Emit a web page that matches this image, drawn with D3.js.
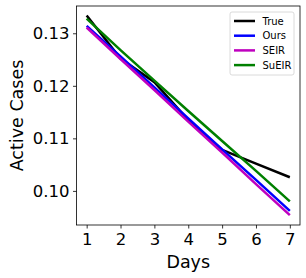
<!DOCTYPE html>
<html>
<head>
<meta charset="utf-8">
<script src="https://cdn.jsdelivr.net/npm/d3@7"></script>
<style>
  body { margin: 0; background: #fff; }
  svg { display: block; font-family: "DejaVu Sans", sans-serif; }
</style>
</head>
<body>
<svg id="chart" width="306" height="278"></svg>
<script>
const days = [1, 2, 3, 4, 5, 6, 7];
const trueCases = [0.1334, 0.1252, 0.1207, 0.1135, 0.1078, 0.1052, 0.1026];
const oursCases = [0.1314, 0.1256, 0.1197, 0.1138, 0.1079, 0.1021, 0.0962];
const seirCases = [0.1311, 0.1251, 0.1192, 0.1132, 0.1073, 0.1013, 0.0954];
const sueirCases = [0.1328, 0.1268, 0.1210, 0.1152, 0.1095, 0.1038, 0.0980];
const yTicks = [0.10, 0.11, 0.12, 0.13];

const series = [
  { label: 'True', color: '#000000', values: trueCases },
  { label: 'Ours', color: '#0000ff', values: oursCases },
  { label: 'SEIR', color: '#bf00bf', values: seirCases },
  { label: 'SuEIR', color: '#008000', values: sueirCases }
];

const width = 306, height = 278;
const margin = { top: 6, right: 6, bottom: 53, left: 76.5 };
const innerWidth = width - margin.left - margin.right;
const innerHeight = height - margin.top - margin.bottom;

const svg = d3.select('#chart');
const group = svg.append('g').attr('transform', `translate(${margin.left},${margin.top})`);

const xScale = d3.scaleLinear().domain([0.7, 7.3]).range([0, innerWidth]);
const yScale = d3.scaleLinear().domain([0.09351, 0.13519]).range([innerHeight, 0]);

const xAxis = group.append('g')
  .attr('transform', `translate(0,${innerHeight})`)
  .call(d3.axisBottom(xScale).tickValues(days).tickFormat(d3.format('d')).tickSize(3.5).tickPadding(3.5));
xAxis.attr('font-family', '"DejaVu Sans", sans-serif');
xAxis.selectAll('text').attr('font-size', 16.5).attr('fill', '#000').attr('dy', '0.76em');

const yAxis = group.append('g')
  .call(d3.axisLeft(yScale).tickValues(yTicks).tickFormat(d3.format('.2f')).tickSize(3.5).tickPadding(3.5));
yAxis.attr('font-family', '"DejaVu Sans", sans-serif');
yAxis.selectAll('text').attr('font-size', 16.5).attr('fill', '#000');
group.selectAll('.domain').remove();
group.selectAll('.tick line').attr('stroke', '#000').attr('stroke-width', 0.8);

const line = d3.line()
  .x((d, i) => xScale(days[i]))
  .y((d) => yScale(d));

series.forEach((s) => {
  group.append('path')
    .datum(s.values)
    .attr('d', line)
    .attr('fill', 'none')
    .attr('stroke', s.color)
    .attr('stroke-width', 2.5)
    .attr('stroke-linejoin', 'round');
});

group.append('rect')
  .attr('x', 0).attr('y', 0)
  .attr('width', innerWidth).attr('height', innerHeight)
  .attr('fill', 'none').attr('stroke', '#000').attr('stroke-width', 0.8);

// legend
const legend = svg.append('g').attr('transform', 'translate(230,12)');
legend.append('rect')
  .attr('x', 0).attr('y', 0).attr('width', 64).attr('height', 63)
  .attr('rx', 2).attr('fill', '#fff').attr('fill-opacity', 0.8)
  .attr('stroke', '#d0d0d0').attr('stroke-width', 0.8);
series.forEach((s, i) => {
  const y = 9 + i * 14.7;
  legend.append('line')
    .attr('x1', 4).attr('x2', 25).attr('y1', y).attr('y2', y)
    .attr('stroke', s.color).attr('stroke-width', 2.5);
  legend.append('text')
    .attr('x', 32.5).attr('y', y).attr('dy', '0.35em')
    .attr('font-size', 10).attr('fill', '#000')
    .text(s.label);
});

svg.append('text')
  .attr('x', margin.left + innerWidth / 2).attr('y', 268)
  .attr('text-anchor', 'middle').attr('font-size', 17.5).attr('fill', '#000')
  .text('Days');

svg.append('text')
  .attr('transform', `translate(23,${margin.top + innerHeight / 2}) rotate(-90)`)
  .attr('text-anchor', 'middle').attr('font-size', 17.5).attr('fill', '#000')
  .text('Active Cases');
</script>
</body>
</html>
